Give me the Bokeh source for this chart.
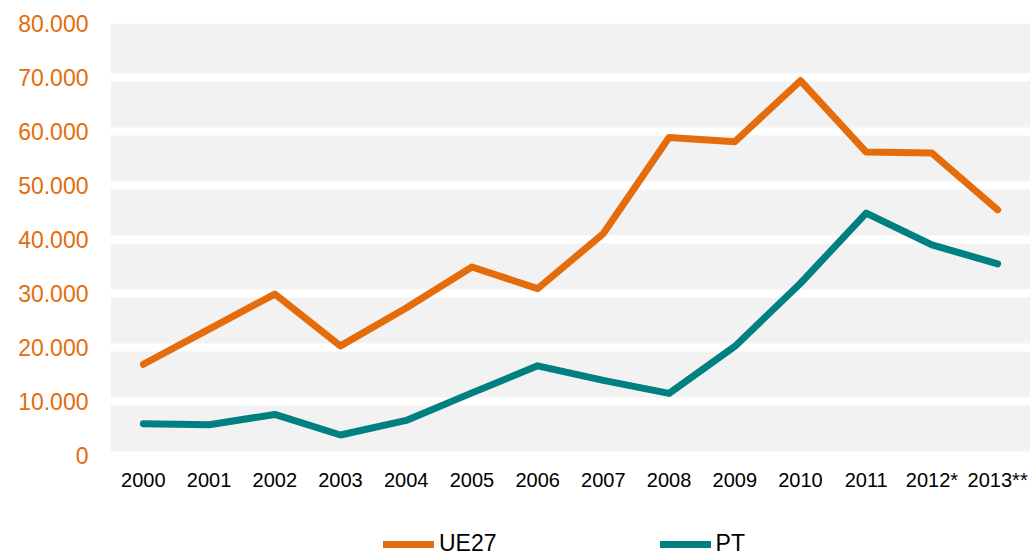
from bokeh.plotting import figure
from bokeh.models import FixedTicker, Legend, LegendItem, ColumnDataSource, BoxAnnotation
from bokeh.embed import file_html
from bokeh.resources import INLINE

years = ["2000", "2001", "2002", "2003", "2004", "2005", "2006", "2007",
         "2008", "2009", "2010", "2011", "2012*", "2013**"]
ue27 = [16900, 23400, 29900, 20300, 27300, 34900, 30900, 41100,
        58900, 58100, 69400, 56200, 56000, 45500]
pt = [5900, 5700, 7600, 3800, 6500, 11600, 16600, 13900,
      11500, 20200, 31900, 44900, 39000, 35500]
y_ticks = [0, 10000, 20000, 30000, 40000, 50000, 60000, 70000, 80000]
y_tick_labels = ["0", "10.000", "20.000", "30.000", "40.000",
                 "50.000", "60.000", "70.000", "80.000"]

ORANGE = "#E46C0A"
TEAL = "#008080"
FONT = "Liberation Sans"

# layout: value axis 0..80000 spans 432 px; 100 px below it hold labels + legend
Y_MAX = 80000
Y_MIN = -Y_MAX * 100 / 432

src = ColumnDataSource(dict(year=years, ue27=ue27, pt=pt))

p = figure(x_range=years, y_range=(Y_MIN, Y_MAX), width=1030, height=555,
           output_backend="svg", toolbar_location=None,
           min_border_left=110, min_border_right=0, min_border_top=23,
           min_border_bottom=0)
p.x_range.range_padding = 0
p.background_fill_color = "white"
p.border_fill_color = "white"
p.outline_line_color = None

plot_area = BoxAnnotation(bottom=0, top=Y_MAX, fill_color="#F2F2F2",
                          fill_alpha=1, line_color=None, level="image")
p.add_layout(plot_area)

r1 = p.line("year", "ue27", source=src, line_color=ORANGE, line_width=7,
            line_cap="round", line_join="round")
r2 = p.line("year", "pt", source=src, line_color=TEAL, line_width=7,
            line_cap="round", line_join="round")

p.xgrid.grid_line_color = None
p.ygrid.grid_line_color = "white"
p.ygrid.grid_line_width = 8
p.ygrid.ticker = FixedTicker(ticks=y_ticks)

ya = p.yaxis[0]
ya.ticker = FixedTicker(ticks=y_ticks)
ya.major_label_overrides = {t: l for t, l in zip(y_ticks, y_tick_labels)}
ya.axis_line_color = None
ya.major_tick_line_color = None
ya.minor_tick_line_color = None
ya.major_tick_out = 0
ya.major_label_standoff = 22
ya.major_label_text_color = ORANGE
ya.major_label_text_font = FONT
ya.major_label_text_font_size = "23px"

xa = p.xaxis[0]
xa.fixed_location = 0
xa.axis_line_color = None
xa.major_tick_line_color = None
xa.major_tick_out = 0
xa.major_label_standoff = 13
xa.major_label_text_color = "black"
xa.major_label_text_font = FONT
xa.major_label_text_font_size = "20px"

legend = Legend(items=[LegendItem(label="UE27", renderers=[r1]),
                       LegendItem(label="PT", renderers=[r2])],
                orientation="horizontal", location=(273, -2),
                glyph_width=51, glyph_height=24, label_standoff=5,
                spacing=163, padding=0, margin=0,
                border_line_color=None, background_fill_alpha=0,
                label_text_font=FONT, label_text_font_size="23px",
                label_text_color="black")
p.add_layout(legend)

open("out.html", "w").write(file_html(p, INLINE))
